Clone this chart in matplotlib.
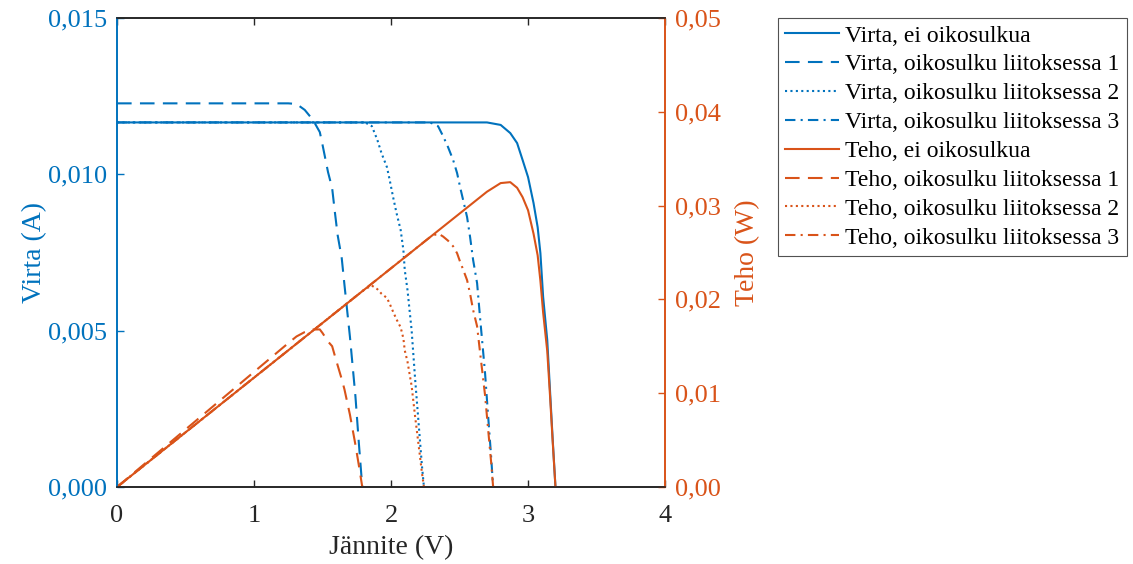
import matplotlib
matplotlib.use("Agg")
import matplotlib.pyplot as plt
from matplotlib.ticker import FixedLocator, FuncFormatter

plt.rcParams["font.family"] = ["Liberation Serif", "DejaVu Serif"]

BLUE = "#0072BD"
ORANGE = "#D95319"

# Jännite (V), virta (mA) ja teho (W) luettu kuvasta
v_ei = [0, 2.70, 2.80, 2.87, 2.92, 2.96, 3.00, 3.04, 3.07, 3.09, 3.11, 3.14, 3.16, 3.18, 3.20]
i_ei = [11.66, 11.66, 11.58, 11.32, 11.00, 10.46, 9.91, 9.08, 8.31, 7.48, 6.08, 4.70, 3.10, 1.50, 0]
p_ei = [0, 0.03148, 0.0324, 0.0325, 0.0319, 0.0309, 0.0295, 0.0270, 0.0247, 0.0220, 0.0186, 0.0145,
        0.0098, 0.0048, 0]

v_1 = [0, 1.25, 1.31, 1.37, 1.43, 1.48, 1.50, 1.54, 1.57, 1.59, 1.61, 1.64, 1.66, 1.70, 1.74, 1.765, 1.79]
i_1 = [12.27, 12.27, 12.25, 12.06, 11.74, 11.35, 10.94, 10.07, 9.56, 8.79, 8.06, 7.32, 6.46, 4.80, 2.90,
       1.40, 0]
p_1 = [0, 0.01534, 0.01605, 0.01652, 0.01679, 0.01680, 0.01641, 0.01551, 0.01501, 0.01398, 0.01298,
       0.0115, 0.0104, 0.0077, 0.0045, 0.0023, 0]

v_2 = [0, 1.75, 1.81, 1.86, 1.90, 1.93, 1.97, 1.99, 2.015, 2.04, 2.07, 2.09, 2.10, 2.12, 2.15, 2.175,
       2.205, 2.225, 2.24]
i_2 = [11.66, 11.66, 11.66, 11.54, 11.10, 10.68, 10.23, 9.82, 9.27, 8.76, 8.22, 7.58, 6.94, 6.30, 5.02,
       3.49, 1.82, 0.70, 0]
p_2 = [0, 0.02041, 0.0211, 0.02147, 0.02109, 0.02061, 0.02015, 0.01954, 0.01868, 0.01787, 0.01702,
       0.01584, 0.01457, 0.01336, 0.01079, 0.00759, 0.00401, 0.00156, 0]

v_3 = [0, 2.24, 2.285, 2.343, 2.38, 2.416, 2.453, 2.482, 2.504, 2.526, 2.555, 2.577, 2.599, 2.628,
       2.65, 2.686, 2.708, 2.73, 2.745]
i_3 = [11.66, 11.66, 11.66, 11.54, 11.22, 10.87, 10.46, 10.04, 9.59, 9.18, 8.63, 7.99, 7.26, 6.52,
       5.40, 3.65, 2.30, 1.00, 0]
p_3 = [0, 0.02612, 0.02664, 0.02704, 0.02670, 0.02626, 0.02566, 0.02492, 0.02401, 0.02319, 0.02205,
       0.02059, 0.01887, 0.01713, 0.01431, 0.00980, 0.00623, 0.00273, 0]

labels_i = ["Virta, ei oikosulkua", "Virta, oikosulku liitoksessa 1",
            "Virta, oikosulku liitoksessa 2", "Virta, oikosulku liitoksessa 3"]
labels_p = ["Teho, ei oikosulkua", "Teho, oikosulku liitoksessa 1",
            "Teho, oikosulku liitoksessa 2", "Teho, oikosulku liitoksessa 3"]

styles = ["-", (0, (7, 4)), (0, (1, 1.6)), (0, (5, 2.5, 1, 2.5))]

fig = plt.figure(figsize=(11.33, 5.64), dpi=100)
ax = fig.add_axes([0.1033, 0.1365, 0.4837, 0.8316])
ax2 = ax.twinx()

handles = []
for v, i, ls, lab in zip([v_ei, v_1, v_2, v_3], [i_ei, i_1, i_2, i_3], styles, labels_i):
    h, = ax.plot(v, [x / 1000 for x in i], color=BLUE, lw=1.5, ls=ls, label=lab)
    handles.append(h)
for v, p, ls, lab in zip([v_ei, v_1, v_2, v_3], [p_ei, p_1, p_2, p_3], styles, labels_p):
    h, = ax2.plot(v, p, color=ORANGE, lw=1.5, ls=ls, label=lab)
    handles.append(h)

ax.set_xlim(0, 4)
ax.set_ylim(0, 0.015)
ax2.set_ylim(0, 0.05)

ax.xaxis.set_major_locator(FixedLocator([0, 1, 2, 3, 4]))
ax.yaxis.set_major_locator(FixedLocator([0, 0.005, 0.010, 0.015]))
ax2.yaxis.set_major_locator(FixedLocator([0, 0.01, 0.02, 0.03, 0.04, 0.05]))
ax.yaxis.set_major_formatter(FuncFormatter(lambda y, _: f"{y:.3f}".replace(".", ",")))
ax2.yaxis.set_major_formatter(FuncFormatter(lambda y, _: f"{y:.2f}".replace(".", ",")))

fs = 19
ax.tick_params(axis="x", direction="in", length=5, width=1, labelsize=fs, colors="#262626", top=True,
               pad=13)
ax.tick_params(axis="y", direction="in", length=5, width=1, labelsize=fs, colors=BLUE, pad=7)
ax2.tick_params(axis="y", direction="in", length=5, width=1, labelsize=fs, colors=ORANGE, pad=7)

for a in (ax, ax2):
    a.spines["top"].set_color("#262626")
    a.spines["bottom"].set_color("#262626")
    a.spines["left"].set_color(BLUE)
    a.spines["right"].set_color(ORANGE)
    for s in a.spines.values():
        s.set_linewidth(1.2)

ax.set_xlabel("Jännite (V)", fontsize=20, color="#262626", labelpad=6)
ax.set_ylabel("Virta (A)", fontsize=20, color=BLUE, labelpad=1)
ax2.set_ylabel("Teho (W)", fontsize=20, color=ORANGE, labelpad=10)

leg = fig.legend(handles=handles, loc="upper left", bbox_to_anchor=(778 / 1133, 1 - 18 / 564),
                 fontsize=17, frameon=True, fancybox=False, handlelength=2.3, handletextpad=0.25,
                 labelspacing=0.31, borderpad=0.3, borderaxespad=0)
leg.get_frame().set_edgecolor("#262626")
leg.get_frame().set_linewidth(0.8)

fig.savefig("out.png", dpi=100)
